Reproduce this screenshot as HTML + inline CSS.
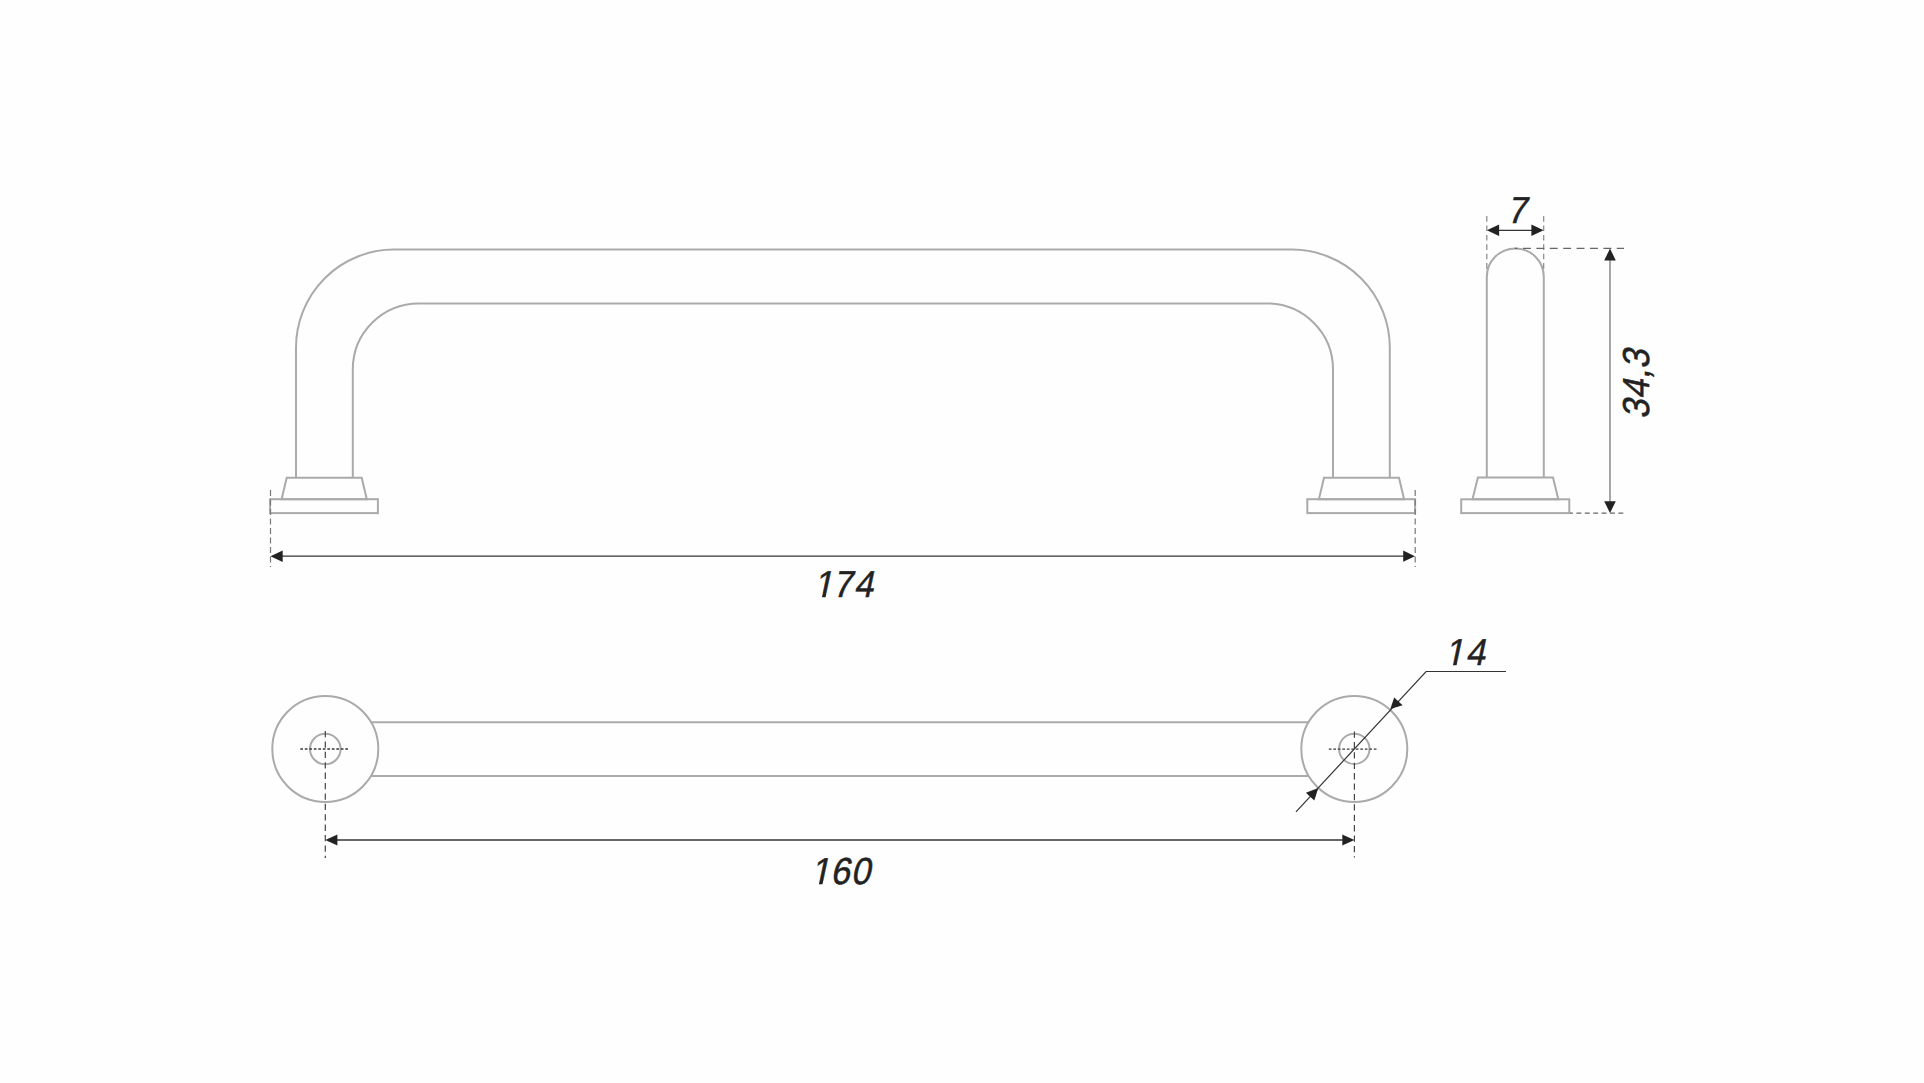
<!DOCTYPE html>
<html><head><meta charset="utf-8"><title>Handle drawing</title><style>
html,body{margin:0;padding:0;background:#fefefe;width:1924px;height:1083px;overflow:hidden}
svg{display:block}
text{font-family:"Liberation Sans",sans-serif;fill:#222;stroke:#222;stroke-width:0.55px}
</style></head><body>
<svg width="1924" height="1083" viewBox="0 0 1924 1083">
<g fill="none" stroke="#aaa" stroke-width="2">
<path d="M296,477.6 V348 A98,98 0 0 1 394,249.6 H1291.8 A98,98 0 0 1 1389.8,348 V477.6"/>
<path d="M352.8,477.6 V369.4 A66,66 0 0 1 418.8,303.4 H1267 A66,66 0 0 1 1333,369.4 V477.6"/>
<path d="M286.7,477.7 H361.7 L366.8,499.2 H281.6 Z"/>
<rect x="270.1" y="499.2" width="107.8" height="13.9"/>
<path d="M1324,477.7 H1399 L1404.1,499.2 H1318.9 Z"/>
<rect x="1307.3" y="499.2" width="107.8" height="13.9"/>
<path d="M1486.8,477.5 V276.9 A28.5,28.5 0 0 1 1543.8,276.9 V477.5"/>
<path d="M1477.9,477.5 H1553 L1558.3,499.3 H1472.5 Z"/>
<rect x="1461.2" y="499.3" width="108.1" height="13.8"/>
<circle cx="325.3" cy="749" r="53"/>
<circle cx="325.3" cy="749" r="15.3"/>
<circle cx="1354.3" cy="749" r="53"/>
<circle cx="1354.3" cy="748.9" r="15.2"/>
<path d="M370.8,722.3 H1308.7 M370.8,776.1 H1308.7"/>
</g>
<g fill="none" stroke="#333" stroke-width="1.3">
<path d="M282,556.2 H1403.5"/>
<path d="M337,840 H1342.5"/>
<path d="M1498,230.3 H1532"/>
</g>
<path d="M1296,811.9 L1426.1,671.5 H1506" fill="none" stroke="#333" stroke-width="1.2"/>
<path d="M1610,259 V502" fill="none" stroke="#888" stroke-width="1.5"/>
<g fill="none" stroke="#777" stroke-width="1.2" stroke-dasharray="5.9 3.6">
<path d="M270.5,490 V567"/>
<path d="M1415.2,490 V567"/>
</g>
<g fill="none" stroke="#444" stroke-width="1.2" stroke-dasharray="6.3 4.1">
<path d="M325.3,731 V858"/>
<path d="M1354.4,731.5 V857.5"/>
</g>
<g fill="none" stroke="#3a3a3a" stroke-width="1.3" stroke-dasharray="2.7 1.8">
<path d="M300.3,749 H348.6"/>
<path d="M1328.8,749.1 H1378.4"/>
</g>
<g fill="none" stroke="#888" stroke-width="1.2" stroke-dasharray="5.6 3.8">
<path d="M1486.8,216.1 V271"/>
<path d="M1543.7,216.1 V270"/>
</g>
<path d="M1514.7,248.4 H1624" fill="none" stroke="#666" stroke-width="1.2" stroke-dasharray="7.9 5.5" stroke-dashoffset="5.1"/>
<path d="M1570,513.1 H1624" fill="none" stroke="#666" stroke-width="1.2" stroke-dasharray="4.9 3.5" stroke-dashoffset="2"/>
<g fill="#222">
<path d="M270.5,556.2 L282.7,550.5 L282.7,561.9 Z"/>
<path d="M1414.9,556.2 L1403.2,550.6 L1403.2,561.7 Z"/>
<path d="M325.4,840 L337.4,834.4 L337.4,845.6 Z"/>
<path d="M1354.3,840 L1342.3,834.4 L1342.3,845.6 Z"/>
<path d="M1486.9,230.3 L1499.1,224.5 L1499.1,236 Z"/>
<path d="M1543.6,230.3 L1531.4,224.5 L1531.4,236 Z"/>
<path d="M1610,248.6 L1604.2,260.4 L1615.8,260.4 Z"/>
<path d="M1610,513 L1604.2,501.2 L1615.8,501.2 Z"/>
<path d="M1390.3,709.1 L1394.2,697.4 L1402.6,705.2 Z"/>
<path d="M1318.3,788.1 L1314.3,800.6 L1305.9,792.8 Z"/>
</g>
<g transform="translate(0,597) skewX(-12) scale(0.92,1)"><text y="0" font-size="37.5"><tspan x="884.35">1</tspan><tspan x="905.00">7</tspan><tspan x="928.04">4</tspan></text><g fill="#fefefe"><rect x="884.95" y="-3.3" width="8.51" height="4.8"/><rect x="897.41" y="-3.3" width="8.14" height="4.8"/></g></g><g transform="translate(0,884.3) skewX(-12) scale(0.92,1)"><text y="0" font-size="37.5"><tspan x="880.98">1</tspan><tspan x="902.50">6</tspan><tspan x="924.78">0</tspan></text><g fill="#fefefe"><rect x="881.58" y="-3.3" width="8.51" height="4.8"/><rect x="894.04" y="-3.3" width="8.14" height="4.8"/></g></g><g transform="translate(0,222.9) skewX(-12) scale(0.92,1)"><text y="0" font-size="37.5"><tspan x="1637.83">7</tspan></text><g fill="#fefefe"></g></g><g transform="translate(0,665.0) skewX(-12) scale(0.92,1)"><text y="0" font-size="37.5"><tspan x="1570.22">1</tspan><tspan x="1592.83">4</tspan></text><g fill="#fefefe"><rect x="1570.82" y="-3.3" width="8.51" height="4.8"/><rect x="1583.28" y="-3.3" width="8.14" height="4.8"/></g></g>
<text transform="translate(1648.8,416) rotate(-90) skewX(-12) scale(0.92,1)" y="0" font-size="37.5"><tspan x="-3.26">3</tspan><tspan x="18.59">4</tspan><tspan x="40.11">,</tspan><tspan x="51.20">3</tspan></text>
</svg>
</body></html>
